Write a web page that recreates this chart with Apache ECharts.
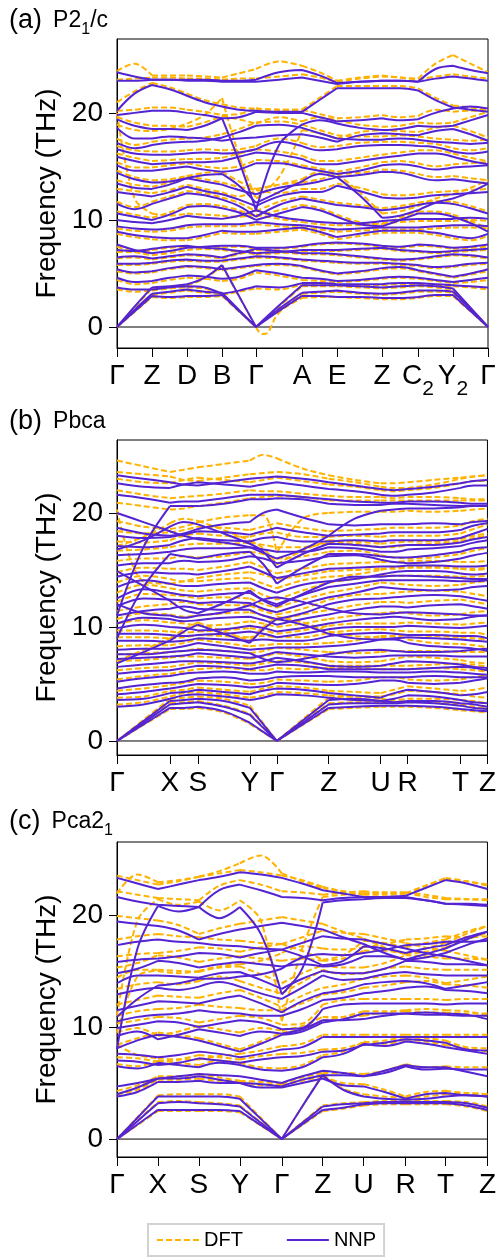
<!DOCTYPE html>
<html>
<head>
<meta charset="utf-8">
<script src="https://cdn.jsdelivr.net/npm/echarts@6/dist/echarts.min.js"></script>
<style>
  html, body { margin: 0; padding: 0; background: #fff; }
  #chart { width: 499px; height: 1257px; }
</style>
</head>
<body>
<div id="chart"></div>
<script>
// ---- high-symmetry paths (cumulative k-distance) and their labels ----
const pathA = [0, 35, 70, 105, 139, 185, 220, 265, 301, 336, 371];
const labelsA = ['Γ', 'Z', 'D', 'B', 'Γ', 'A', 'E', 'Z', 'C{s|2}', 'Y{s|2}', 'Γ'];
const pathB = [0, 53, 81, 133, 160, 212, 264, 291, 344, 371];
const labelsB = ['Γ', 'X', 'S', 'Y', 'Γ', 'Z', 'U', 'R', 'T', 'Z'];
const pathC = [0, 41, 82, 123, 165, 206, 247, 289, 329, 371];
const labelsC = ['Γ', 'X', 'S', 'Y', 'Γ', 'Z', 'U', 'R', 'T', 'Z'];
const freqTicks = [0, 10, 20];

// Band frequencies (THz), sampled at each high-symmetry point and at the
// midpoint of every segment along the path.

// ---- (a) P2_1/c ----
const nnpA = [
  [0,1.45,2.9,2.8,2.9,2.9,3.0,1.5,0, 1.5,2.9,2.9,2.8,2.8,2.7,2.7,2.8,3.0,3.0,1.5,0],
  [0,1.6,3.1,3.3,3.5,3.3,3.2,1.6,0, 1.7,3.2,3.3,3.4,3.2,3.1,3.2,3.4,3.4,3.3,1.7,0],
  [0,1.9,3.7,3.8,4.0,4.6,5.8,2.9,0, 2.0,3.9,3.9,3.9,3.8,3.7,3.8,3.9,3.8,3.6,1.8,0],
  [3.7,3.5,3.5,3.7,3.8,3.7,3.1,3.4,3.8, 3.7,4.1,4.1,4.0,4.0,4.0,4.1,4.1,4.0,3.9,3.8,3.7],
  [4.6,4.2,4.3,4.6,4.8,4.7,4.5,4.7,5.3, 5.0,4.6,4.5,4.3,4.4,4.6,4.7,4.6,4.4,4.2,4.4,4.6],
  [5.4,5.1,5.2,5.5,5.7,5.6,5.4,5.6,5.8, 5.9,5.7,5.3,5.0,5.2,5.5,5.6,5.3,5.0,4.7,5.0,5.4],
  [5.9,5.9,6.0,6.2,6.3,6.2,6.2,6.4,6.6, 6.5,6.3,6.2,6.1,6.0,6.0,5.9,5.8,5.6,5.7,5.9,6.0],
  [6.5,6.6,6.4,6.6,6.8,6.7,6.5,6.9,7.3, 7.1,6.9,6.9,6.8,6.6,6.4,6.3,6.4,6.6,6.8,6.7,6.5],
  [7.2,7.1,7.3,7.5,7.6,7.4,7.3,7.1,6.9, 7.0,7.2,7.2,7.2,7.3,7.4,7.2,7.1,7.0,7.1,7.2,7.3],
  [7.7,7.2,6.9,7.1,7.4,7.5,7.6,7.6,7.4, 7.4,7.6,7.8,7.9,7.8,7.6,7.5,7.7,7.6,7.4,7.5,7.7],
  [8.9,8.6,8.4,8.3,8.3,8.6,9.0,8.9,8.9, 9.1,9.3,8.9,8.4,8.7,9.0,9.0,9.0,8.8,8.5,8.3,8.7],
  [9.4,9.2,9.1,9.2,9.5,9.6,9.6,9.6,9.8, 9.6,9.5,9.3,9.1,9.2,9.3,9.3,9.3,9.4,9.5,9.5,9.4],
  [10.0,9.8,9.7,10.0,10.4,10.2,10.1,10.4,10.9, 10.3,10.0,9.8,9.7,9.7,9.9,10.0,10.1,10.1,10.1,10.2,10.1],
  [10.6,10.3,10.0,10.5,11.2,11.3,11.1,10.7,10.0, 10.6,11.2,10.9,10.3,9.6,9.4,10.0,10.6,10.6,10.3,9.7,8.9],
  [11.5,11.0,11.5,12.0,12.5,12.3,11.9,11.3,10.3, 11.4,12.0,11.7,11.4,11.2,10.9,11.1,11.4,11.6,11.5,11.1,10.6],
  [12.6,12.4,12.2,12.6,13.1,12.7,12.4,11.9,11.3, 12.2,12.6,12.6,13.2,12.7,12.1,12.0,12.1,12.3,12.4,12.5,12.6],
  [13.4,13.0,12.9,13.3,13.9,14.2,14.3,13.2,11.6, 12.6,13.6,14.3,14.0,14.2,14.5,14.4,14.0,13.7,13.8,13.6,13.4],
  [14.4,13.8,13.5,13.6,13.9,13.6,13.3,12.8,12.4, 13.0,13.3,13.6,14.0,12.3,10.2,10.4,10.9,11.6,12.0,12.6,13.4],
  [15.1,14.6,14.6,14.8,15.0,14.7,14.5,14.7,15.3, 15.3,14.9,14.6,14.3,14.6,15.1,15.2,15.0,14.7,14.9,15.0,15.1],
  [15.9,15.5,15.2,15.3,15.4,15.4,15.5,15.9,16.3, 16.1,15.7,15.2,15.2,15.5,15.8,16.0,16.2,16.2,15.9,15.5,15.2],
  [16.6,16.2,16.1,16.1,16.2,16.3,16.2,16.3,16.6, 17.3,16.9,16.5,16.6,16.9,17.0,17.0,16.9,16.8,16.4,16.2,16.4],
  [17.2,16.7,17.0,17.2,17.3,17.4,17.7,18.2,18.8, 18.9,18.6,18.1,17.6,17.5,17.5,17.6,17.5,17.3,17.2,17.1,17.2],
  [18.6,17.6,17.6,17.8,17.7,17.6,17.4,17.6,17.7, 17.9,18.0,17.7,17.3,17.9,18.1,18.0,17.9,18.3,18.5,18.0,17.4],
  [19.4,18.8,18.5,18.5,18.4,18.8,19.5,15.5,10.9, 17.0,18.9,19.3,19.0,18.6,18.4,18.5,18.8,18.7,18.8,19.3,19.8],
  [19.8,20.0,20.2,20.2,20.0,19.8,19.5,19.6,20.1, 20.0,20.0,19.6,19.2,19.3,19.5,19.3,19.4,20.0,20.4,20.6,20.4],
  [20.2,21.8,22.6,22.2,21.6,21.0,20.6,20.3,20.2, 20.1,20.1,21.2,22.3,22.3,22.3,22.3,22.1,21.2,20.5,20.3,20.1],
  [23.0,23.0,23.1,23.1,23.0,23.0,22.9,22.9,22.9, 23.1,23.3,23.0,22.7,22.9,23.0,23.0,22.9,23.2,23.4,23.2,23.0],
  [23.8,23.4,23.1,23.1,23.1,23.1,23.0,23.0,23.1, 23.8,24.0,23.5,22.8,22.9,23.0,23.0,22.9,24.1,24.4,24.0,23.7]
];
const dftA = [
  [0,1.4,2.8,2.7,2.8,2.8,2.9,1.45,0, null,2.7,2.8,2.8,2.7,2.6,2.6,2.7,2.9,2.9,1.45,0],
  [0,1.5,3.0,3.2,3.4,3.2,3.1,1.55,0, 1.6,3.1,3.2,3.3,3.1,3.0,3.1,3.3,3.3,3.2,1.6,0],
  [0,1.8,3.6,3.7,3.9,4.5,5.7,2.85,0, 1.9,3.8,3.8,3.8,3.7,3.6,3.7,3.8,3.7,3.5,1.75,0],
  [3.5,3.3,3.4,3.6,3.7,3.6,3.0,3.3,3.6, 3.5,4.0,4.0,3.9,3.9,3.9,4.0,4.0,3.9,3.8,3.7,3.5],
  [4.4,4.0,4.1,4.4,4.6,4.5,4.3,4.5,5.1, 4.8,4.4,4.3,4.2,4.3,4.5,4.6,4.5,4.3,4.1,4.2,4.4],
  [5.2,5.0,5.1,5.4,5.6,5.5,5.3,5.5,5.7, 5.8,5.6,5.2,4.9,5.1,5.4,5.5,5.2,4.9,4.6,4.9,5.2],
  [5.8,5.8,5.9,6.1,6.2,6.1,6.1,6.3,6.5, 6.4,6.2,6.1,6.0,5.9,5.9,5.8,5.7,5.5,5.6,5.8,5.9],
  [6.4,6.5,6.3,6.5,6.7,6.6,6.4,6.8,7.2, 7.0,6.8,6.8,6.7,6.5,6.3,6.2,6.3,6.5,6.7,6.6,6.4],
  [7.0,7.0,7.2,7.4,7.5,7.3,7.2,7.0,6.8, 6.9,7.1,7.1,7.1,7.2,7.3,7.1,7.0,6.9,7.0,7.1,7.2],
  [7.5,7.0,6.7,6.9,7.2,7.3,7.4,7.5,7.3, 7.3,7.5,7.7,7.8,7.7,7.5,7.4,7.6,7.5,7.3,7.4,7.5],
  [8.7,8.4,8.2,8.1,8.1,8.4,8.8,8.7,8.7, 8.9,9.1,8.7,8.2,8.5,8.8,8.8,8.8,8.6,8.3,8.1,8.5],
  [9.2,9.0,8.9,9.0,9.3,9.4,9.4,9.4,9.6, 9.4,9.3,9.1,8.9,9.0,9.1,9.1,9.1,9.2,9.3,9.3,9.2],
  [20.0,12.0,10.6,10.4,10.6,10.5,10.4,10.3,10.5, 10.1,9.8,9.6,9.5,9.5,9.7,9.8,9.9,9.9,9.9,10.0,9.9],
  [10.8,10.5,10.2,10.7,11.4,11.5,11.3,10.9,10.3, 10.9,11.4,11.1,10.5,9.8,9.6,10.2,10.8,10.8,10.5,9.9,9.2],
  [11.7,11.2,11.7,12.2,12.7,12.5,12.1,11.6,10.8, 11.7,12.2,11.9,11.6,11.4,11.1,11.3,11.6,11.8,11.7,11.3,10.8],
  [12.9,12.7,12.5,12.8,13.3,12.9,12.6,12.2,12.8, 12.5,12.9,12.9,13.4,13.0,12.4,12.3,12.4,12.6,12.7,12.8,12.9],
  [13.7,13.3,13.1,13.5,14.1,14.4,14.5,13.6,12.9, 13.3,13.8,14.5,14.3,14.4,14.7,14.6,14.3,14.0,14.1,13.9,13.7],
  [14.6,14.0,13.7,13.8,14.1,13.8,13.5,13.1,12.8, 13.3,13.5,13.8,14.3,12.6,10.6,10.8,11.3,12.0,12.4,13.0,13.7],
  [15.4,14.9,14.9,15.1,15.3,15.0,14.8,15.0,15.6, 15.5,15.1,14.8,14.5,14.9,15.4,15.5,15.3,15.0,15.2,15.3,15.4],
  [16.2,15.8,15.5,15.6,15.7,15.7,15.8,16.2,16.6, 16.4,16.0,15.5,15.5,15.8,16.1,16.3,16.5,16.5,16.2,15.8,15.5],
  [16.9,16.5,16.4,16.4,16.5,16.6,16.5,16.6,16.9, 17.6,17.2,16.8,16.9,17.2,17.3,17.3,17.2,17.1,16.7,16.5,16.7],
  [17.6,17.0,17.3,17.5,17.6,17.7,18.0,18.5,19.1, 19.2,18.9,18.4,17.9,17.8,17.8,17.9,17.8,17.6,17.5,17.4,17.5],
  [18.9,18.4,18.3,18.5,19.0,19.8,21.4,16.0,12.0, 14.0,18.4,18.1,17.6,18.2,18.4,18.3,18.2,18.6,18.8,18.3,17.7],
  [19.6,19.1,18.8,18.8,18.7,19.1,19.7,19.4,19.0, 19.6,19.2,19.6,19.3,18.9,18.7,18.8,19.1,19.0,19.1,19.6,20.1],
  [20.2,20.3,20.5,20.5,20.3,20.1,19.8,19.9,20.4, 20.3,20.3,19.9,19.5,19.6,19.8,19.6,19.7,20.3,20.1,20.2,20.2],
  [21.0,22.0,22.8,22.4,21.8,21.2,20.8,20.5,20.4, 20.3,20.3,21.4,22.5,22.5,22.5,22.5,22.3,21.4,20.7,20.5,20.3],
  [23.1,23.2,23.3,23.3,23.2,23.2,23.1,23.2,23.2, 23.4,23.6,23.3,22.9,23.2,23.4,23.3,23.1,23.4,23.6,23.4,23.2],
  [23.9,24.6,23.5,23.5,23.5,23.4,23.3,23.7,24.1, 24.8,24.4,23.8,23.0,23.3,23.5,23.3,23.2,24.6,25.4,24.6,23.8]
];
// soft DFT acoustic branch just past the second Γ of (a), finer sampling
const dftSoftAK = [139, 142, 146, 150, 154, 159, 168, 185];
const dftSoftAV = [0, -0.45, -0.65, -0.6, 0, 1.0, 1.8, 2.7];

// ---- (b) Pbca ----
const nnpB = [
  [0,1.45,2.9,2.9,3.0,2.6,1.6,0.8,0, 1.45,2.9,3.0,3.1,3.1,3.1,3.0,2.8,2.7,2.6],
  [0,1.6,3.2,3.3,3.4,3.0,2.3,1.15,0, 1.6,3.2,3.3,3.3,3.3,3.4,3.3,3.1,2.9,2.8],
  [0,1.75,3.5,3.6,3.7,3.5,2.9,1.45,0, 1.8,3.6,3.7,3.5,3.4,3.5,3.5,3.3,3.2,3.0],
  [3.0,3.2,3.7,4.0,4.1,3.9,3.6,3.8,4.1, 4.0,3.8,3.6,3.5,3.7,4.0,3.9,3.6,3.4,3.3],
  [3.6,3.7,4.2,4.3,4.5,4.3,4.1,4.4,4.6, 4.5,4.2,4.0,3.8,4.2,4.5,4.3,4.0,4.1,4.3],
  [4.1,4.3,4.6,4.8,5.0,4.9,4.7,4.8,5.1, 5.0,4.9,5.0,5.3,5.3,5.1,5.0,5.1,5.3,5.5],
  [4.6,4.9,5.1,5.2,5.5,5.6,5.3,5.4,5.6, 5.7,5.7,5.6,5.6,5.6,5.6,5.7,5.6,5.6,5.6],
  [5.2,5.5,5.7,5.9,6.0,6.1,5.9,5.9,6.1, 6.0,6.1,6.1,6.0,6.0,6.0,6.1,6.0,5.9,5.8],
  [5.9,6.1,6.2,6.4,6.6,6.5,6.3,6.5,6.7, 6.6,6.3,6.3,6.3,6.3,6.3,6.4,6.5,6.4,6.2],
  [6.5,6.7,6.9,7.0,7.0,6.9,6.8,7.0,7.3, 7.0,6.6,6.5,6.6,6.8,7.0,6.9,6.7,6.5,6.4],
  [6.8,7.8,8.8,9.6,10.2,9.4,8.6,9.8,10.7, 10.2,9.4,9.0,8.9,9.0,9.1,9.0,8.9,8.8,8.7],
  [7.2,7.3,7.4,7.5,7.7,7.5,7.3,7.5,7.8, 7.6,7.4,7.3,7.4,7.5,7.5,7.5,7.4,7.4,7.4],
  [7.6,7.6,7.8,7.9,8.0,7.9,7.7,7.2,6.9, 7.2,7.6,7.9,8.0,7.9,7.8,7.8,7.9,8.0,8.1],
  [8.0,8.1,8.1,8.3,8.6,8.3,8.0,8.1,8.2, 8.2,8.3,8.5,8.9,8.9,8.6,8.3,8.2,8.1,7.9],
  [8.8,8.8,8.7,8.8,9.0,8.9,8.8,8.9,8.8, 8.8,9.2,9.4,9.5,9.4,9.3,9.3,9.2,9.2,9.0],
  [9.0,13.5,16.4,16.2,16.0,16.4,16.6,15.5,13.8, 15.2,16.4,16.4,16.2,16.1,16.1,16.3,16.6,16.9,17.0],
  [9.4,9.4,9.3,9.2,9.3,9.4,9.6,9.4,9.1, 9.4,9.8,10.0,10.0,10.0,10.1,10.0,9.9,10.0,10.1],
  [9.9,10.2,10.0,9.9,9.7,9.8,10.1,9.9,9.6, 9.9,10.3,10.6,10.8,10.9,10.8,10.6,10.7,10.9,11.0],
  [10.3,10.8,10.7,10.5,10.6,10.8,10.9,10.6,10.2, 10.7,11.1,11.5,11.8,11.8,11.7,11.9,12.0,11.8,11.6],
  [11.0,11.4,11.6,11.8,11.6,11.5,11.5,11.0,10.7, 11.2,12.0,12.4,12.5,12.6,12.7,12.8,12.7,12.5,12.3],
  [12.0,11.2,11.0,10.8,11.0,11.3,11.9,12.4,12.6, 12.2,11.6,11.2,11.1,11.2,11.3,11.2,11.1,11.0,11.0],
  [11.8,12.5,12.4,12.3,12.1,12.2,12.1,11.6,11.3, 12.0,12.6,13.0,13.5,13.4,13.3,13.2,13.3,13.5,13.6],
  [12.5,13.3,13.0,12.8,12.7,12.9,13.0,12.4,12.0, 12.8,13.5,13.8,14.1,14.1,14.1,14.1,14.0,14.0,14.1],
  [13.5,14.1,13.8,13.6,13.6,13.8,13.9,13.4,13.0, 13.7,14.0,14.2,14.6,14.8,14.9,14.9,14.7,14.6,14.7],
  [14.9,13.6,12.3,11.5,11.2,12.1,13.2,12.3,11.8, 12.9,13.9,14.4,14.4,14.5,14.5,14.4,14.3,14.2,14.2],
  [14.4,14.8,14.7,14.7,14.6,14.9,15.3,14.8,14.3, 14.7,15.1,15.2,15.3,15.3,15.4,15.4,15.3,15.3,15.4],
  [15.4,15.6,15.6,15.8,15.7,15.8,16.2,16.0,15.6, 15.8,16.2,16.3,15.9,15.7,15.6,15.7,16.0,16.3,16.5],
  [16.3,16.4,16.6,16.8,16.9,16.9,17.0,16.8,16.6, 16.6,17.0,16.9,16.6,16.6,16.8,16.9,17.1,17.4,17.6],
  [16.8,17.6,18.8,19.2,19.0,18.2,17.3,16.6,15.2, 16.4,17.3,17.2,17.0,17.1,17.2,17.2,17.4,17.7,17.9],
  [17.1,17.0,17.2,17.6,17.8,17.6,17.5,17.8,17.9, 17.5,17.5,17.6,17.5,17.6,17.6,17.6,17.8,18.2,18.6],
  [18.0,17.8,17.9,18.1,18.4,18.3,18.1,18.4,18.7, 18.3,18.0,18.1,18.2,18.3,18.3,18.3,18.5,18.9,19.1],
  [18.7,18.2,18.0,18.2,18.6,19.0,19.2,20.0,20.3, 19.6,19.0,18.9,19.0,19.0,19.0,19.1,19.0,19.2,19.3],
  [20.0,19.2,18.4,18.0,17.7,17.4,17.0,16.5,16.0, 16.8,18.0,19.5,20.2,20.3,20.4,20.4,20.5,20.6,20.6],
  [11.0,17.0,20.6,20.6,20.6,20.8,21.2,21.2,21.3, 21.2,20.8,20.7,20.7,20.8,20.8,20.7,20.6,20.6,20.6],
  [21.6,21.3,20.9,21.0,21.0,21.3,21.6,21.6,21.6, 21.4,21.2,21.0,20.9,20.9,21.0,21.0,20.9,20.8,20.8],
  [22.6,22.3,22.2,22.5,22.7,22.5,22.3,22.5,22.7, 22.4,22.1,21.9,21.6,21.5,21.6,21.8,22.2,22.4,22.4],
  [23.3,23.0,22.7,22.5,22.4,22.7,23.0,23.1,23.2, 23.0,22.7,22.4,22.1,22.0,22.1,22.3,22.6,22.8,22.9]
];
const dftB = [
  [0,1.4,2.8,2.8,2.9,2.5,1.5,0.75,0, 1.4,2.8,2.9,3.0,3.0,3.0,2.9,2.7,2.6,2.5],
  [0,1.65,3.3,3.4,3.5,3.1,2.4,1.2,0, 1.65,3.3,3.4,3.4,3.4,3.5,3.4,3.2,3.0,2.9],
  [0,1.85,3.7,3.8,3.9,3.7,3.1,1.55,0, 1.9,3.8,3.9,3.7,3.6,3.7,3.7,3.6,3.5,3.3],
  [3.2,3.4,3.9,4.2,4.3,4.1,3.8,4.0,4.3, 4.2,4.0,3.9,3.9,4.1,4.4,4.3,4.1,3.9,3.8],
  [3.8,3.9,4.4,4.5,4.7,4.5,4.3,4.6,4.8, 4.7,4.4,4.3,4.2,4.5,4.8,4.6,4.4,4.5,4.7],
  [4.4,4.6,4.9,5.1,5.3,5.2,5.0,5.1,5.4, 5.3,5.2,5.3,5.6,5.6,5.4,5.3,5.4,5.6,5.8],
  [5.4,5.7,5.9,6.1,6.3,6.4,6.2,6.2,6.4, 6.3,6.4,6.4,6.3,6.3,6.3,6.4,6.3,6.2,6.1],
  [6.2,6.4,6.5,6.7,6.9,6.8,6.6,6.8,7.0, 6.9,6.6,6.6,6.6,6.6,6.6,6.7,6.8,6.7,6.5],
  [7.0,8.0,9.0,9.8,10.4,9.6,8.8,10.0,10.9, 10.4,9.6,9.2,9.1,9.2,9.3,9.2,9.1,9.0,8.9],
  [7.0,7.1,7.3,7.4,7.4,7.3,7.2,7.4,7.7, 7.4,7.0,6.9,7.0,7.2,7.4,7.3,7.1,6.9,6.8],
  [7.6,7.7,7.8,7.9,8.1,7.9,7.7,7.9,8.2, 8.0,7.8,7.7,7.8,7.9,7.9,7.9,7.8,7.8,7.8],
  [8.3,8.4,8.4,8.6,8.9,8.6,8.3,8.4,8.5, 8.5,8.6,8.8,9.2,9.2,8.9,8.6,8.5,8.4,8.2],
  [9.1,9.1,9.0,9.1,9.3,9.2,9.1,9.2,9.1, 9.1,9.5,9.7,9.8,9.7,9.6,9.6,9.5,9.5,9.3],
  [9.7,9.7,9.6,9.5,9.6,9.7,9.9,9.7,9.4, 9.7,10.1,10.3,10.3,10.3,10.4,10.3,10.2,10.3,10.4],
  [10.3,10.6,10.4,10.3,10.1,10.2,10.5,10.3,10.0, 10.3,10.7,11.0,11.2,11.3,11.2,11.0,11.1,11.3,11.4],
  [10.7,11.2,11.1,10.9,11.0,11.2,11.3,11.0,10.6, 11.1,11.5,11.9,12.2,12.2,12.1,12.3,12.4,12.2,12.0],
  [11.4,11.8,12.0,12.2,12.0,11.9,11.9,11.4,11.1, 11.6,12.4,12.8,12.9,13.0,13.1,13.2,13.1,12.9,12.7],
  [12.2,12.9,12.8,12.7,12.5,12.6,12.5,12.0,11.7, 12.4,13.0,13.4,13.9,13.8,13.7,13.6,13.7,13.9,14.0],
  [13.0,13.7,13.4,13.2,13.1,13.3,13.4,12.8,12.4, 13.2,13.9,14.2,14.5,14.5,14.5,14.5,14.4,14.4,14.5],
  [13.9,14.5,14.2,14.0,14.0,14.2,14.3,13.8,13.4, 14.1,14.4,14.6,15.0,15.2,15.3,15.3,15.1,15.0,15.1],
  [14.8,15.2,15.1,15.1,15.0,15.3,15.7,15.2,14.7, 15.1,15.5,15.6,15.7,15.7,15.8,15.8,15.7,15.7,15.8],
  [20.3,14.0,13.8,14.0,14.3,14.6,14.8,14.6,14.2, 14.5,14.9,15.0,15.1,15.1,15.2,15.2,15.1,15.1,15.2],
  [15.8,16.0,16.0,16.2,16.1,16.2,16.6,16.4,16.0, 16.2,16.6,16.7,16.3,16.1,16.0,16.1,16.4,16.7,16.9],
  [16.7,16.8,17.0,17.2,17.3,17.3,17.4,17.2,17.0, 17.0,17.4,17.3,17.0,17.0,17.2,17.3,17.5,17.8,18.0],
  [17.1,17.9,19.1,19.5,19.3,18.5,17.6,16.9,15.5, 16.7,17.6,17.5,17.3,17.4,17.5,17.5,17.7,18.0,18.2],
  [17.5,17.4,17.6,18.0,18.2,18.0,17.9,18.2,18.3, 17.9,17.9,18.0,17.9,18.0,18.0,18.0,18.2,18.6,19.0],
  [18.4,18.2,18.3,18.5,18.8,18.7,18.5,18.8,19.1, 18.7,18.4,18.5,18.6,18.7,18.7,18.7,18.9,19.3,19.5],
  [19.3,18.8,18.6,18.8,19.2,19.6,19.8,19.8,16.5, 19.5,20.0,20.1,20.1,20.1,20.2,20.1,20.2,20.3,20.4],
  [20.9,20.6,20.3,20.4,20.6,20.9,21.3,21.4,21.5, 21.4,21.1,21.1,21.1,21.1,21.1,21.1,21.1,21.1,21.1],
  [22.0,21.6,21.3,21.4,21.5,21.7,22.0,21.9,21.9, 21.7,21.5,21.4,21.4,21.3,21.4,21.4,21.3,21.2,21.2],
  [23.0,22.7,22.6,22.9,23.1,22.9,22.7,22.9,23.1, 22.8,22.5,22.3,22.0,21.9,22.0,22.2,22.6,22.8,22.8],
  [23.6,23.4,23.2,22.9,22.8,23.1,23.4,23.5,23.6, 23.4,23.0,22.7,22.3,22.2,22.2,22.5,23.0,23.2,23.3],
  [24.6,24.1,23.6,23.8,24.0,24.3,24.6,25.1,24.8, 23.9,23.3,22.9,22.6,22.6,22.7,22.9,23.1,23.2,23.3]
];

// ---- (c) Pca2_1 ----
const nnpC = [
  [0,1.3,2.6,2.6,2.6,2.6,2.5,1.25,0, 1.3,2.6,2.8,3.1,3.2,3.2,3.2,3.2,3.0,2.6],
  [0,1.6,3.2,3.3,3.2,3.1,2.9,1.45,0, 1.45,2.9,3.1,3.2,3.3,3.3,3.3,3.3,3.2,2.8],
  [0,1.9,3.8,3.8,3.8,3.8,3.6,1.8,0, 2.9,5.7,4.4,3.8,3.6,3.5,3.6,3.8,3.9,3.8],
  [3.8,4.2,5.1,5.1,5.2,5.0,5.0,4.6,4.6, 5.0,5.4,4.8,4.7,4.2,3.6,4.0,4.1,3.9,3.8],
  [4.0,4.6,5.4,5.4,5.6,5.3,5.0,4.9,4.7, 5.3,5.7,5.7,5.6,5.9,6.5,6.2,6.3,6.2,6.2],
  [4.7,5.0,5.4,5.6,5.8,5.7,5.6,5.3,5.0, 5.6,6.1,5.9,5.6,6.1,6.6,6.4,6.4,6.0,5.6],
  [6.5,6.3,6.8,6.6,6.4,6.8,6.6,6.2,6.1, 6.4,7.3,7.6,8.5,8.3,8.7,8.5,8.2,7.9,7.6],
  [7.0,6.9,6.6,6.8,7.2,7.0,6.8,7.1,7.3, 7.4,7.8,7.9,8.4,8.6,8.9,8.8,8.6,8.0,7.9],
  [7.6,7.5,7.3,7.5,7.8,7.6,7.3,7.6,8.0, 8.2,9.1,9.1,9.1,9.1,9.1,9.1,9.1,9.1,9.1],
  [8.1,8.8,9.3,9.1,8.8,8.3,7.8,8.5,9.3, 9.6,10.4,10.7,11.2,11.2,11.2,11.1,11.1,11.0,11.0],
  [9.2,9.6,8.9,9.3,9.8,9.5,9.2,9.6,9.4, 9.8,10.6,10.6,10.7,11.0,11.2,11.3,11.2,11.1,10.7],
  [9.9,10.2,10.5,10.4,10.0,10.3,10.6,10.4,9.8, 9.9,11.6,12.0,12.1,12.1,12.1,12.1,12.0,12.1,12.1],
  [10.5,10.9,11.1,11.2,11.5,11.3,11.2,11.0,11.0, 11.6,12.4,12.6,13.0,13.2,13.5,13.6,13.3,13.2,13.0],
  [10.9,12.5,13.7,13.9,14.3,14.3,14.5,14.7,15.2, 16.2,16.5,16.4,16.6,16.9,17.3,17.4,17.6,17.6,17.7],
  [11.5,11.9,12.3,12.2,12.1,12.5,12.8,12.1,11.3, 12.3,13.0,13.3,13.8,14.0,14.1,13.9,13.4,13.7,14.0],
  [12.9,13.3,13.5,13.3,13.6,14.0,13.6,13.0,12.5, 13.5,14.6,14.2,14.3,14.7,14.9,14.7,14.6,14.6,14.6],
  [13.9,14.6,14.6,14.5,14.4,14.8,14.9,14.2,13.4, 14.3,15.0,14.8,14.8,15.2,15.9,15.8,15.6,15.6,15.5],
  [14.8,15.2,15.9,15.7,15.3,15.6,15.8,15.6,15.4, 15.6,15.4,15.6,16.3,16.3,16.0,16.2,16.6,17.3,17.9],
  [15.8,16.0,16.1,16.3,16.6,16.5,16.2,16.6,16.9, 16.3,15.5,15.9,17.2,17.0,16.6,17.0,17.3,18.0,18.5],
  [17.3,17.6,17.8,17.6,17.5,17.3,17.2,17.0,16.9, 17.5,18.1,17.9,17.8,17.4,17.0,16.6,16.3,15.9,15.5],
  [19.4,19.2,19.0,18.6,17.8,18.3,18.7,19.0,19.3, 19.0,18.7,18.0,17.4,16.6,16.0,16.5,17.0,17.8,18.5],
  [8.0,17.0,20.8,20.3,20.7,19.7,20.7,18.3,12.9, 15.2,21.1,21.3,21.4,21.5,21.5,21.3,21.0,20.9,20.8],
  [21.6,21.2,20.9,20.8,20.7,22.2,22.7,22.2,21.6, 21.5,21.3,21.5,21.6,21.5,21.6,21.3,21.0,21.0,20.9],
  [23.3,22.8,22.3,22.7,23.1,23.4,23.8,23.6,23.3, 22.8,22.2,21.9,21.6,21.6,21.7,22.4,23.1,22.8,22.3]
];
const dftC = [
  [0,1.25,2.5,2.5,2.5,2.5,2.4,1.2,0, 1.25,2.5,2.7,3.0,3.1,3.1,3.1,3.1,2.9,2.5],
  [0,1.65,3.3,3.4,3.3,3.2,3.0,1.5,0, 1.5,3.0,3.2,3.3,3.4,3.4,3.4,3.4,3.3,2.9],
  [0,1.95,3.9,4.0,4.0,4.0,3.8,1.9,0, 2.9,5.8,4.5,4.0,3.8,3.7,3.8,4.0,4.1,4.0],
  [4.0,4.4,5.3,5.3,5.4,5.2,5.2,4.8,4.8, 5.2,5.6,5.0,4.9,4.4,3.8,4.2,4.3,4.1,4.0],
  [4.3,4.8,5.6,5.6,5.8,5.5,5.2,5.1,4.9, 5.5,5.9,5.9,5.8,6.1,6.7,6.4,6.5,6.4,6.4],
  [6.7,6.5,7.0,6.8,6.6,7.0,6.8,6.4,6.3, 6.6,7.5,7.8,8.7,8.5,8.9,8.7,8.4,8.1,7.8],
  [7.3,7.2,6.9,7.1,7.5,7.3,7.1,7.4,7.6, 7.7,8.0,8.1,8.6,8.8,9.1,9.0,8.8,8.2,8.1],
  [8.4,7.5,7.2,7.1,7.1,7.4,7.6,7.9,8.3, 8.5,9.3,9.3,9.3,9.3,9.3,9.3,9.3,9.3,9.3],
  [8.4,9.0,9.5,9.3,9.0,8.5,8.0,8.7,9.5, 9.8,10.6,10.9,11.4,11.4,11.4,11.3,11.3,11.2,11.2],
  [9.5,9.9,9.2,9.6,10.1,9.8,9.5,9.9,9.7, 10.1,10.9,10.9,11.0,11.3,11.5,11.6,11.5,11.4,11.0],
  [10.3,10.6,10.9,10.8,10.4,10.7,11.0,10.8,10.2, 10.3,12.0,12.4,12.5,12.5,12.5,12.5,12.4,12.5,12.5],
  [11.0,11.4,11.6,11.7,12.0,11.8,11.7,11.5,11.5, 12.1,12.9,13.1,13.5,13.7,14.0,14.1,13.8,13.7,13.5],
  [12.0,12.4,12.8,12.7,12.6,13.0,13.3,12.6,11.8, 12.8,13.5,13.8,14.3,14.5,14.6,14.4,13.9,14.2,14.5],
  [9.5,14.5,15.0,14.8,15.0,15.4,15.6,15.9,16.6, 17.2,17.0,16.9,17.1,17.4,17.8,17.9,18.1,18.0,18.1],
  [13.4,13.8,14.0,13.8,14.1,14.5,14.1,13.5,13.0, 14.0,15.1,14.7,14.8,15.2,15.4,15.2,15.1,15.1,15.1],
  [14.4,15.1,15.1,15.0,14.9,15.3,15.4,14.7,13.9, 14.8,15.5,15.3,15.3,15.7,16.4,16.3,16.1,16.1,16.0],
  [15.3,15.7,16.4,16.2,15.8,16.1,16.3,16.1,15.9, 16.1,15.9,16.1,16.8,16.8,16.5,16.7,17.1,17.8,18.4],
  [16.3,16.5,16.6,16.8,17.1,17.0,16.7,17.1,17.4, 16.8,16.0,16.4,17.7,17.5,17.1,17.5,17.8,18.5,19.0],
  [17.8,18.1,18.3,18.1,18.0,17.8,17.7,17.5,17.4, 18.0,18.6,18.4,18.3,17.9,17.5,17.1,16.8,16.4,16.0],
  [19.9,19.7,19.5,19.1,18.3,18.8,19.2,19.5,19.8, 19.5,19.2,18.5,17.9,17.1,16.5,17.0,17.5,18.3,19.0],
  [11.0,19.5,21.4,20.9,21.2,20.4,21.3,19.5,10.5, 17.0,21.6,21.8,21.9,22.0,22.0,21.8,21.5,21.4,21.3],
  [22.1,21.8,21.5,21.4,21.3,22.6,23.1,22.7,22.1, 22.0,21.8,22.0,22.1,22.0,22.0,21.6,21.4,21.4,21.4],
  [21.9,23.6,22.9,23.1,23.4,23.9,24.6,25.3,23.7, 23.0,22.4,22.1,21.9,21.9,21.9,22.6,23.2,23.0,22.7],
  [23.5,23.1,22.7,23.0,23.4,23.7,24.0,23.8,23.5, 23.1,22.5,22.1,21.8,21.8,21.9,22.6,23.3,23.0,22.6]
];

// ---- styling ----
const FONT = 'Liberation Sans, Arial, Helvetica, sans-serif';
const DFT_COLOR = '#FFB300';
const NNP_COLOR = '#5424D2';

// k positions: every high-symmetry point plus the midpoint of each segment
function samplePositions(path) {
  const s = [];
  for (let i = 0; i < path.length; i++) {
    s.push(path[i]);
    if (i < path.length - 1) s.push((path[i] + path[i + 1]) / 2);
  }
  return s;
}

// one band -> line data, broken at every high-symmetry point so that each
// path segment is smoothed on its own (kinks stay sharp at Γ, Z, ...)
function bandData(band, ks, nSeg) {
  const out = [];
  for (let s = 0; s < nSeg; s++) {
    for (let j = 0; j < 3; j++) {
      const i = 2 * s + j;
      out.push([ks[i], band[i] === null ? null : band[i]]);
    }
    if (s < nSeg - 1) out.push([ks[2 * s + 2], null]);
  }
  return out;
}

const panels = [
  { path: pathA, labels: labelsA, nnp: nnpA, dft: dftA, top: 39, height: 309, min: -1.96, max: 26.9 },
  { path: pathB, labels: labelsB, nnp: nnpB, dft: dftB, top: 440, height: 315, min: -1.23, max: 26.4 },
  { path: pathC, labels: labelsC, nnp: nnpC, dft: dftC, top: 842, height: 315, min: -1.6, max: 26.5 }
];

const grids = [], xAxes = [], yAxes = [], series = [];
const dftLine = { color: DFT_COLOR, width: 2, type: [6, 3] };
const nnpLine = { color: NNP_COLOR, width: 2 };

panels.forEach((p, gi) => {
  const kMax = p.path[p.path.length - 1];
  const nSeg = p.path.length - 1;
  grids.push({
    left: 117, top: p.top, width: 371, height: p.height,
    show: true, borderColor: '#000', borderWidth: 1, backgroundColor: 'transparent'
  });
  xAxes.push({
    gridIndex: gi, type: 'value', min: 0, max: kMax,
    axisLine: { show: true, onZero: false, lineStyle: { color: '#000', width: 1 } },
    axisTick: { show: true, customValues: p.path, length: 9, lineStyle: { color: '#000', width: 1 } },
    axisLabel: {
      customValues: p.path,
      formatter: (v) => {
        const i = p.path.findIndex(t => Math.abs(t - v) < 1e-6);
        return i >= 0 ? p.labels[i] : '';
      },
      color: '#000', fontFamily: FONT, fontSize: 28, lineHeight: 48, margin: 4,
      rich: { s: { fontFamily: FONT, fontSize: 21, lineHeight: 24, verticalAlign: 'bottom', color: '#000' } }
    },
    splitLine: { show: false }
  });
  yAxes.push({
    gridIndex: gi, type: 'value', min: p.min, max: p.max,
    name: 'Frequency (THz)', nameLocation: 'middle', nameGap: 52,
    nameTextStyle: { color: '#000', fontFamily: FONT, fontSize: 28 },
    axisLine: { show: true, lineStyle: { color: '#000', width: 1 } },
    axisTick: { show: true, customValues: freqTicks, length: 8, lineStyle: { color: '#000' } },
    axisLabel: { customValues: freqTicks, color: '#000', fontFamily: FONT, fontSize: 28, margin: 14 },
    splitLine: { show: false }
  });

  // horizontal line at zero frequency
  series.push({
    type: 'line', name: 'zero', xAxisIndex: gi, yAxisIndex: gi,
    data: [[0, 0], [kMax, 0]], symbol: 'none', silent: true, z: 1,
    lineStyle: { color: '#000', width: 1 }
  });

  const ks = samplePositions(p.path);
  p.dft.forEach(band => {
    series.push({
      type: 'line', name: 'DFT', xAxisIndex: gi, yAxisIndex: gi,
      data: bandData(band, ks, nSeg),
      smooth: 0.35, symbol: 'none', silent: true, z: 2, connectNulls: false,
      lineStyle: dftLine, itemStyle: { color: DFT_COLOR }
    });
  });
  if (gi === 0) {
    series.push({
      type: 'line', name: 'DFT', xAxisIndex: 0, yAxisIndex: 0,
      data: dftSoftAK.map((k, i) => [k, dftSoftAV[i]]),
      smooth: 0.35, symbol: 'none', silent: true, z: 2,
      lineStyle: dftLine, itemStyle: { color: DFT_COLOR }
    });
  }
  p.nnp.forEach(band => {
    series.push({
      type: 'line', name: 'NNP', xAxisIndex: gi, yAxisIndex: gi,
      data: bandData(band, ks, nSeg),
      smooth: 0.35, symbol: 'none', silent: true, z: 3, connectNulls: false,
      lineStyle: nnpLine, itemStyle: { color: NNP_COLOR }
    });
  });
});

const titleRich = {
  g: { fontFamily: FONT, fontSize: 40 },
  p: { fontFamily: FONT, fontSize: 23, color: '#000' },
  s: { fontFamily: FONT, fontSize: 16, lineHeight: 22, verticalAlign: 'bottom', color: '#000' }
};
const titleStyle = { fontFamily: FONT, fontSize: 27, fontWeight: 'normal', color: '#000', lineHeight: 34, rich: titleRich };

const chart = echarts.init(document.getElementById('chart'), null, { renderer: 'canvas' });
chart.setOption({
  animation: false,
  backgroundColor: '#fff',
  textStyle: { fontFamily: FONT },
  title: [
    { text: '(a){g| }{p|P2}{s|1}{p|/c}', left: 9, top: 4, padding: 0, textStyle: titleStyle },
    { text: '(b){g| }{p|Pbca}', left: 9, top: 405, padding: 0, textStyle: titleStyle },
    { text: '(c){g| }{p|Pca2}{s|1}', left: 9, top: 805, padding: 0, textStyle: titleStyle }
  ],
  legend: {
    data: ['DFT', 'NNP'],
    left: 148, top: 1224, orient: 'horizontal',
    borderColor: '#d2d2d2', borderWidth: 2, borderRadius: 0,
    padding: [6, 8], itemGap: 43, itemWidth: 42, itemHeight: 14,
    itemStyle: { opacity: 0 },
    textStyle: { color: '#000', fontFamily: FONT, fontSize: 20 }
  },
  grid: grids,
  xAxis: xAxes,
  yAxis: yAxes,
  series: series
});
</script>
</body>
</html>
